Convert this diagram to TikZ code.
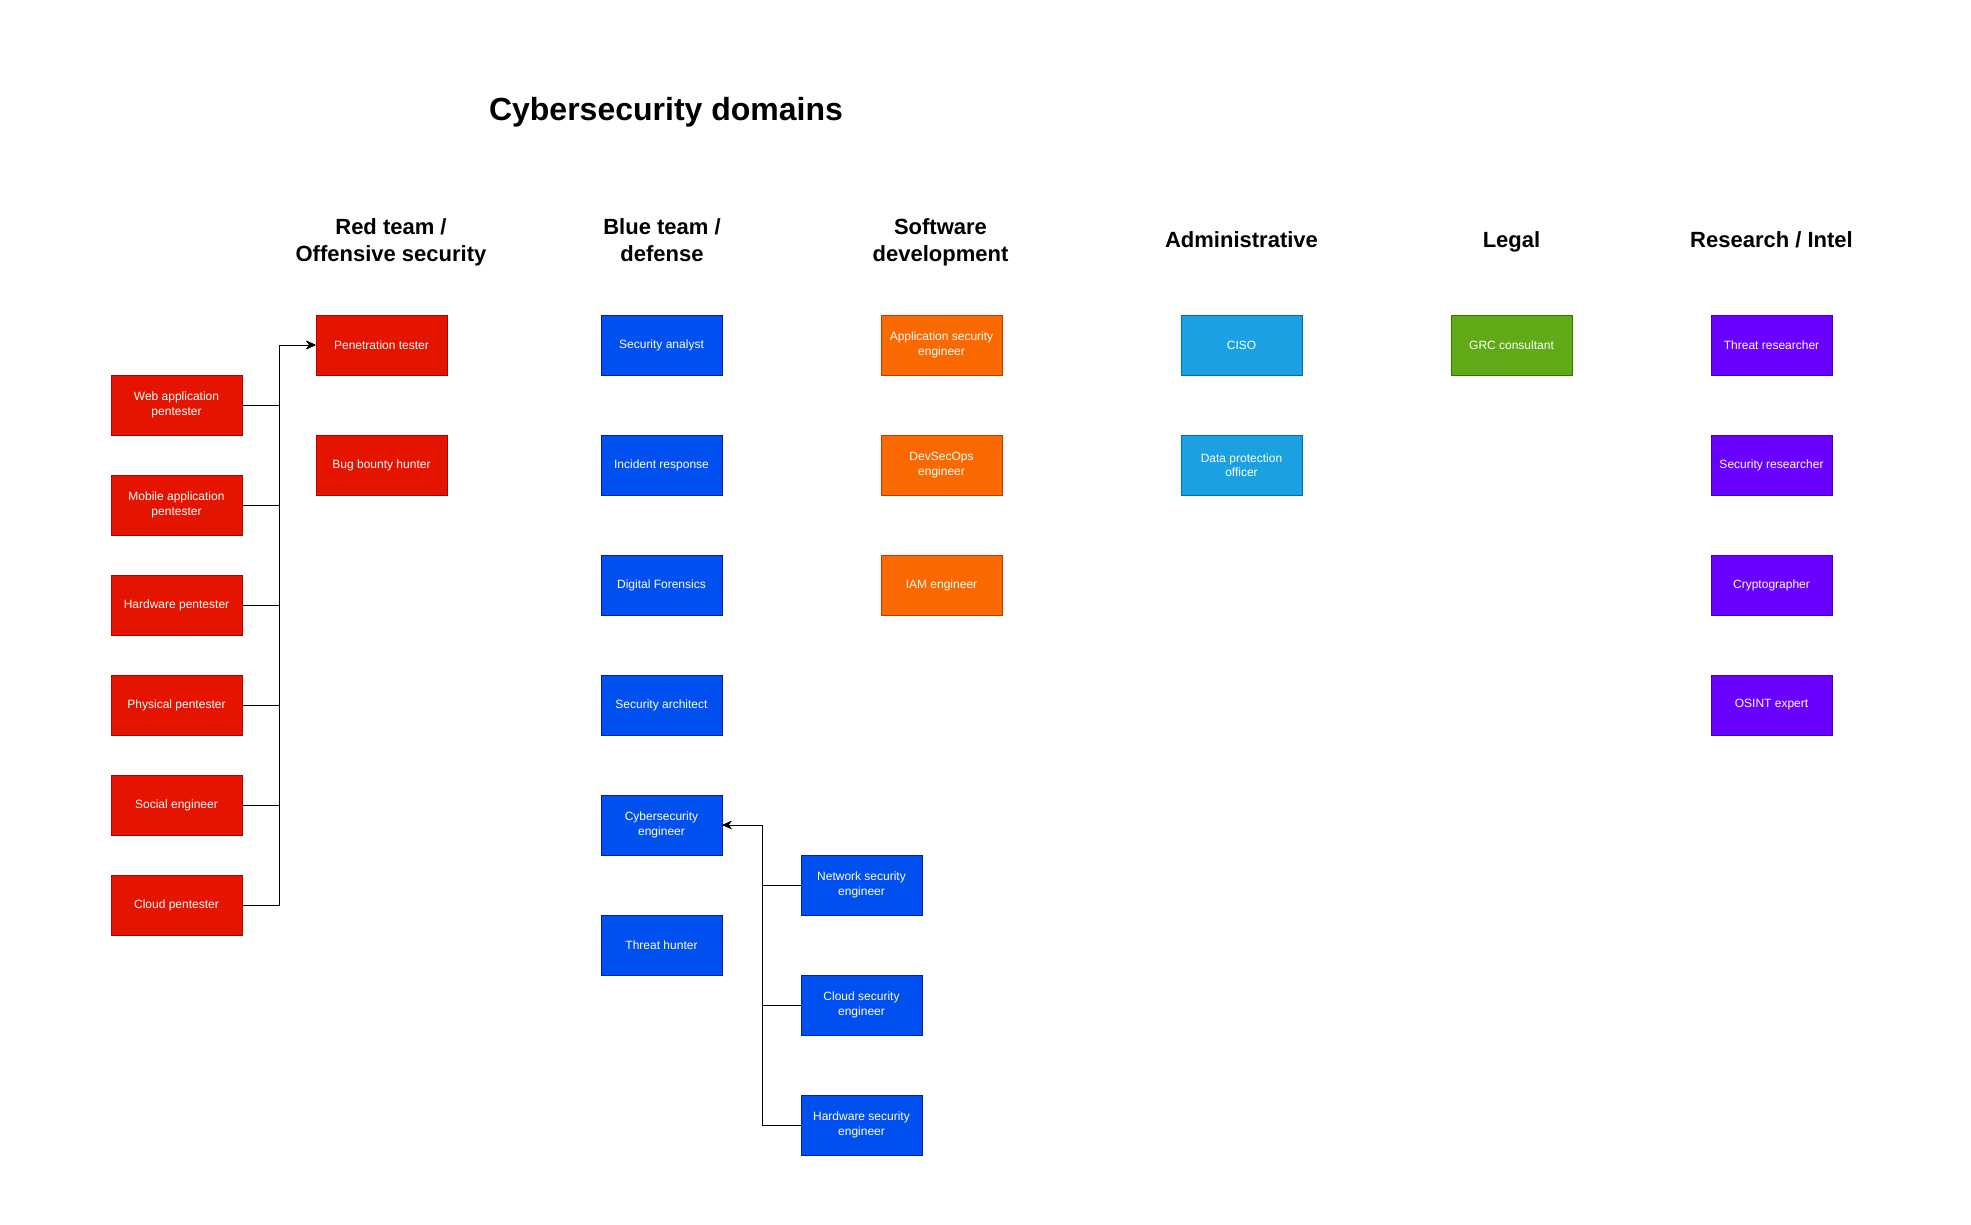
\documentclass[tikz,border=0pt]{standalone}
\usepackage{fontspec}
\setmainfont{Liberation Sans}
\usetikzlibrary{arrows.meta}
\definecolor{redF}{HTML}{E51400}\definecolor{redD}{HTML}{B20000}
\definecolor{blueF}{HTML}{0050EF}\definecolor{blueD}{HTML}{001DBC}
\definecolor{orangeF}{HTML}{FA6800}\definecolor{orangeD}{HTML}{C73500}
\definecolor{cyanF}{HTML}{1BA1E2}\definecolor{cyanD}{HTML}{006EAF}
\definecolor{greenF}{HTML}{60A917}\definecolor{greenD}{HTML}{2D7600}
\definecolor{purpleF}{HTML}{6A00FF}\definecolor{purpleD}{HTML}{3700CC}
\begin{document}
\begin{tikzpicture}[x=1pt,y=-1pt,
  box/.style={draw, line width=1pt, minimum width=121pt, minimum height=60pt, inner sep=0pt,
    text=white, font=\fontsize{12}{14.4}\selectfont, align=center},
  redbox/.style={box, fill=redF, draw=redD, minimum width=131pt},
  bluebox/.style={box, fill=blueF, draw=blueD},
  orangebox/.style={box, fill=orangeF, draw=orangeD},
  cyanbox/.style={box, fill=cyanF, draw=cyanD},
  greenbox/.style={box, fill=greenF, draw=greenD},
  purplebox/.style={box, fill=purpleF, draw=purpleD},
  link/.style={draw=black, line width=1pt},
  arr/.style={link, -{Stealth[length=9pt,width=8pt,inset=3pt]}},
  head/.style={font=\bfseries\fontsize{22}{26.4}\selectfont, align=center, inner sep=0pt},
  head1/.style={head, anchor=base},
]
\useasboundingbox[fill=white] (0,0) rectangle (1971,1224);

\node[font=\bfseries\fontsize{32}{38}\selectfont, inner sep=0pt] (title) at (666,112.5) {Cybersecurity domains};

\node[head] (hred) at (391,242.5) {Red team /\\Offensive security};
\node[head] (hblue) at (662,240) {Blue team /\\defense};
\node[head] (hsoft) at (940.5,242.5) {Software\\development};
\node[head1] (hadmin) at (1241.5,247) {Administrative};
\node[head1] (hlegal) at (1511.5,247) {Legal};
\node[head1] (hres) at (1771.5,247) {Research / Intel};

% red
\node[redbox] (web) at (176.5,405) {Web application\\pentester};
\node[redbox] (mob) at (176.5,505) {Mobile application\\pentester};
\node[redbox] (hwp) at (176.5,605) {Hardware pentester};
\node[redbox] (phy) at (176.5,705) {Physical pentester};
\node[redbox] (soc) at (176.5,805) {Social engineer};
\node[redbox] (clp) at (176.5,905) {Cloud pentester};
\node[redbox] (pen) at (381.5,345) {Penetration tester};
\node[redbox] (bug) at (381.5,465) {Bug bounty hunter};

% blue
\node[bluebox] (sa) at (661.5,345) {Security analyst};
\node[bluebox] (ir) at (661.5,465) {Incident response};
\node[bluebox] (df) at (661.5,585) {Digital Forensics};
\node[bluebox] (arch) at (661.5,705) {Security architect};
\node[bluebox] (cyb) at (661.5,825) {Cybersecurity\\engineer};
\node[bluebox] (th) at (661.5,945) {Threat hunter};
\node[bluebox] (net) at (861.5,885) {Network security\\engineer};
\node[bluebox] (cls) at (861.5,1005) {Cloud security\\engineer};
\node[bluebox] (hws) at (861.5,1125) {Hardware security\\engineer};

% orange
\node[orangebox] (app) at (941.5,345) {Application security\\engineer};
\node[orangebox] (dso) at (941.5,465) {DevSecOps\\engineer};
\node[orangebox] (iam) at (941.5,585) {IAM engineer};

% admin
\node[cyanbox] (ciso) at (1241.5,345) {CISO};
\node[cyanbox] (dpo) at (1241.5,465) {Data protection\\officer};

% legal
\node[greenbox] (grc) at (1511.5,345) {GRC consultant};

% research
\node[purplebox] (tr) at (1771.5,345) {Threat researcher};
\node[purplebox] (sr) at (1771.5,465) {Security researcher};
\node[purplebox] (cry) at (1771.5,585) {Cryptographer};
\node[purplebox] (osint) at (1771.5,705) {OSINT expert};

% connectors
\coordinate (rt) at (279,345);
\foreach \n in {web,mob,hwp,phy,soc,clp}
  \draw[arr] (\n.east) -| (rt) -- (pen.west);
\coordinate (bt) at (762,825);
\foreach \n in {net,cls,hws}
  \draw[arr] (\n.west) -| (bt) -- (cyb.east);
\end{tikzpicture}
\end{document}
